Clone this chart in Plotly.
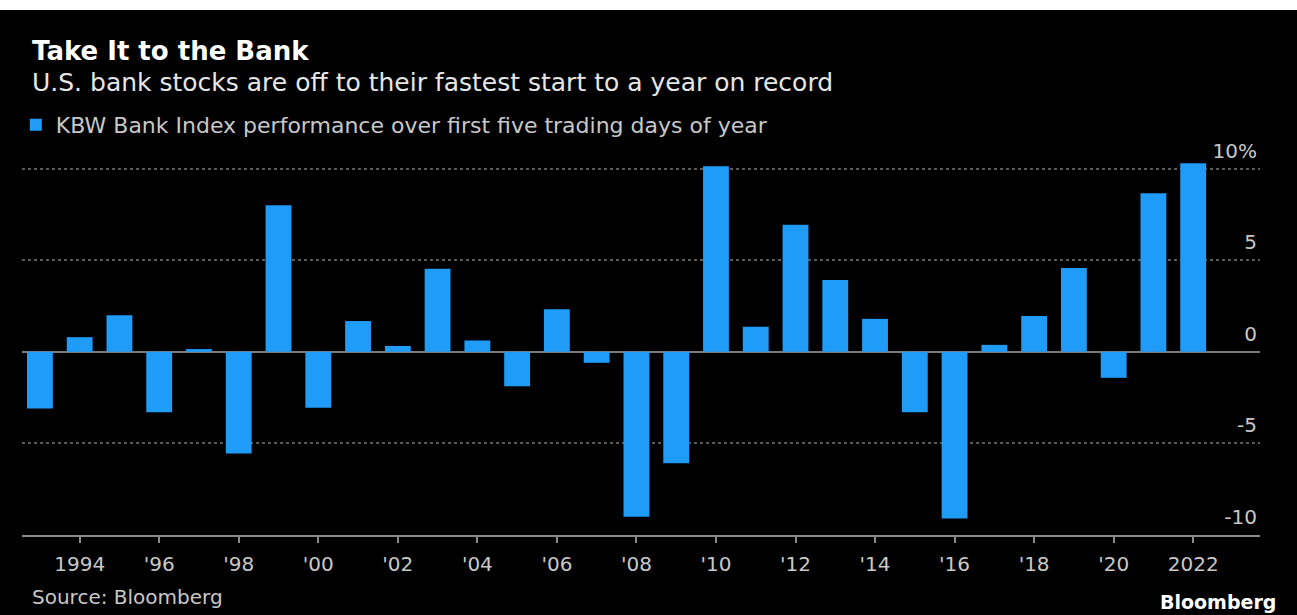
import plotly.graph_objects as go

years = list(range(1993, 2023))
perf = [-3.1, 0.8, 2.0, -3.3, 0.15, -5.55, 8.0, -3.05, 1.68, 0.32,
        4.53, 0.62, -1.88, 2.33, -0.6, -9.0, -6.08, 10.13, 1.37, 6.94,
        3.92, 1.8, -3.3, -9.1, 0.38, 1.96, 4.57, -1.42, 8.65, 10.3]

x_tickvals = list(range(1994, 2023, 2))
x_ticktext = ["1994", "'96", "'98", "'00", "'02", "'04", "'06", "'08", "'10",
              "'12", "'14", "'16", "'18", "'20", "2022"]
y_tickvals = [-10, -5, 0, 5, 10]
y_ticktext = ["-10", "-5", "0", "5", "10%"]

FONT = "DejaVu Sans"
BLUE = "#1e9cf8"

fig = go.Figure()
fig.add_trace(go.Bar(
    x=years, y=perf, marker=dict(color=BLUE, line=dict(width=0)),
    name="KBW Bank Index performance over first five trading days of year",
    showlegend=True,
))

fig.update_layout(
    width=1297, height=615,
    margin=dict(l=22, r=37, t=132, b=80),
    paper_bgcolor="black", plot_bgcolor="black",
    bargap=0.35,
    font=dict(family=FONT, color="#c8c8c8"),
    showlegend=True,
    legend=dict(orientation="h", x=-0.005, xanchor="left", y=1.0174, yanchor="middle",
                font=dict(size=22, color="#c8c8c8", family=FONT),
                bgcolor="rgba(0,0,0,0)", itemclick=False),
    xaxis=dict(
        range=[1992.55, 2023.68], tickvals=x_tickvals, ticktext=x_ticktext,
        showgrid=False, zeroline=False, showline=True, linecolor="#8a8a8a", linewidth=2,
        ticks="outside", ticklen=6, tickcolor="#8a8a8a", tickwidth=2,
        tickfont=dict(size=20, color="#c8c8c8", family=FONT), ticklabelstandoff=4,
    ),
    yaxis=dict(
        range=[-10, 12], tickvals=y_tickvals, ticktext=y_ticktext, side="right",
        ticklabelposition="inside top", ticklabelshift=-4,
        showgrid=True, gridcolor="#5a5a5a", griddash="dot", gridwidth=1.5,
        zeroline=True, zerolinecolor="#7a7a7a", zerolinewidth=2,
        showline=False, ticks="",
        tickfont=dict(size=20, color="#c8c8c8", family=FONT),
    ),
    shapes=[dict(type="rect", xref="paper", yref="paper", x0=-0.1, x1=1.1,
                 y0=1.303, y1=1.5, fillcolor="white", line=dict(width=0), layer="above")],
    annotations=[
        dict(text="<b>Take It to the Bank</b>", xref="paper", yref="paper",
             x=0.0065, y=1.201, xanchor="left", yanchor="middle", showarrow=False,
             font=dict(size=26, color="white", family=FONT)),
        dict(text="U.S. bank stocks are off to their fastest start to a year on record",
             xref="paper", yref="paper", x=0.0065, y=1.124, xanchor="left", yanchor="middle",
             showarrow=False, font=dict(size=25, color="#e6e6e6", family=FONT)),
        dict(text="Source: Bloomberg", xref="paper", yref="paper", x=0.0065, y=-0.154,
             xanchor="left", yanchor="middle", showarrow=False,
             font=dict(size=20, color="#c8c8c8", family=FONT)),
        dict(text="<b>Bloomberg</b>", xref="paper", yref="paper", x=1.0145, y=-0.166,
             xanchor="right", yanchor="middle", showarrow=False,
             font=dict(size=19, color="white", family=FONT)),
    ],
)

fig.write_html("out.html")
